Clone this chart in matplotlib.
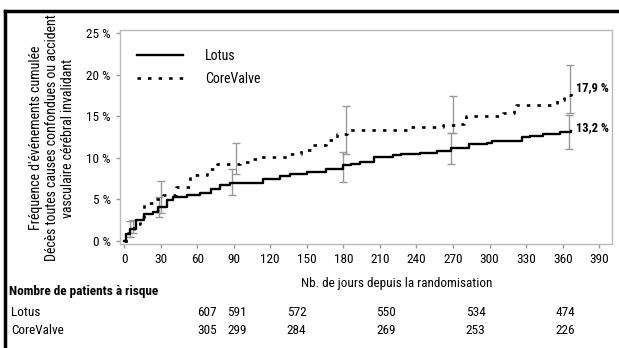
import matplotlib
matplotlib.use("Agg")
import matplotlib.pyplot as plt
from matplotlib.lines import Line2D
import numpy as np

plt.rcParams['font.family'] = ['Liberation Sans Narrow', 'DejaVu Sans Condensed',
                               'Roboto Condensed', 'Liberation Sans', 'DejaVu Sans']

# Kaplan-Meier style curves (day, cumulative %)
lotus_days = [0, 2, 5, 10, 16, 24, 28, 35, 40, 52, 62, 71, 79, 87, 109, 114, 128, 136,
              150, 166, 180, 186, 194, 205, 221, 227, 243, 257, 268, 279, 283, 298,
              302, 322, 327, 333, 344, 358, 367]
lotus_pct = [0.0, 0.8, 1.5, 2.5, 3.3, 3.5, 4.1, 4.9, 5.3, 5.5, 5.8, 6.3, 6.7, 7.0, 7.0,
             7.4, 7.8, 8.1, 8.3, 8.7, 9.1, 9.3, 9.5, 10.1, 10.3, 10.5, 10.6, 10.85,
             11.2, 11.2, 11.65, 11.75, 12.0, 12.0, 12.45, 12.65, 12.85, 13.05, 13.2]

core_days = [0, 3, 8, 13, 16, 24, 32, 43, 54, 68, 76, 87, 95, 103, 109, 125, 134, 145,
             155, 166, 175, 183, 226, 232, 262, 273, 279, 281, 306, 311, 320, 322,
             347, 355, 361, 367]
core_pct = [0.0, 1.0, 2.1, 2.9, 4.6, 5.1, 5.5, 6.5, 7.9, 8.6, 9.3, 9.3, 9.5, 9.9, 10.1,
            10.1, 10.5, 10.9, 11.5, 12.1, 12.9, 13.3, 13.3, 13.65, 13.9, 14.1, 14.5,
            15.0, 15.0, 15.4, 16.1, 16.4, 16.4, 16.95, 17.55, 17.9]

# confidence intervals
lotus_ci_days = [5, 29, 89, 180, 268, 365]
lotus_ci_low = [0.5, 2.85, 5.5, 7.1, 9.25, 11.1]
lotus_ci_high = [2.4, 5.3, 8.6, 10.7, 13.0, 15.1]
core_ci_days = [7, 30, 92, 182, 270, 366]
core_ci_low = [1.0, 3.4, 8.0, 10.5, 13.0, 15.35]
core_ci_high = [2.5, 7.25, 11.8, 16.2, 17.4, 21.2]

# patients at risk
risk_days = [0, 30, 90, 180, 270, 360]
lotus_risk = [607, 591, 572, 550, 534, 474]
core_risk = [305, 299, 284, 269, 253, 226]

fig = plt.figure(figsize=(6.19, 3.48), dpi=100)
ax = fig.add_axes([120/619, 1 - 244/348, 492/619, 214/348])

grey = '#999999'


def ci_bars(days, lo, hi, curve_days, curve_pct):
    mid = np.interp(days, curve_days, curve_pct)
    yerr = [mid - np.array(lo), np.array(hi) - mid]
    ax.errorbar(days, mid, yerr=yerr, fmt='none', ecolor=grey, elinewidth=1,
                capsize=3, capthick=1, zorder=1)


ci_bars(lotus_ci_days, lotus_ci_low, lotus_ci_high, lotus_days, lotus_pct)
ci_bars(core_ci_days, core_ci_low, core_ci_high, core_days, core_pct)

ax.plot(lotus_days, lotus_pct, drawstyle='steps-post', color='black', lw=1.7,
        label='Lotus', zorder=3)
ax.plot(core_days, core_pct, drawstyle='steps-post', color='black', lw=1.9,
        linestyle=(0, (1.3, 2.7)), label='CoreValve', zorder=3)

ax.text(371, 18.4, '17,9 %', fontsize=9, fontweight='bold', ha='left', va='center')
ax.text(371, 13.6, '13,2 %', fontsize=9, fontweight='bold', ha='left', va='center')

ax.set_xlim(-3.3, 400.5)
ax.set_ylim(-0.36, 25.36)
ax.set_xticks(range(0, 391, 30))
ax.set_yticks(range(0, 26, 5))
ax.set_yticklabels(['%d %%' % v for v in range(0, 26, 5)])
ax.tick_params(labelsize=9.5, color=grey, length=3, width=1)
for s in ax.spines.values():
    s.set_color('#bbbbbb')
    s.set_linewidth(1)

fig.text(397/619, 1 - 283/348, 'Nb. de jours depuis la randomisation', fontsize=9.5,
         ha='center', va='center')
fig.text(52/619, 1 - 138/348,
         "Fréquence d'événements cumulée\n"
         "Décès toutes causes confondues ou accident\n"
         "vasculaire cérébral invalidant",
         rotation=90, ha='center', va='center', fontsize=10, linespacing=1.15)

ax.legend(loc='upper left', bbox_to_anchor=(17/492, 0.91), frameon=False,
          fontsize=10, handlelength=3.3, handletextpad=1.6, labelspacing=0.6,
          borderpad=0, borderaxespad=0)

# risk table (its own horizontal scale: 607 at x=207 px, 474 at x=565 px)
fig.text(9/619, 1 - 292/348, 'Nombre de patients à risque', fontsize=9.5,
         fontweight='bold', ha='left', va='center')
fig.text(11/619, 1 - 312/348, 'Lotus', fontsize=9.5, ha='left', va='center')
fig.text(11/619, 1 - 331/348, 'CoreValve', fontsize=9.5, ha='left', va='center')
for d, a, b in zip(risk_days, lotus_risk, core_risk):
    xp = (207 + d * 358 / 360) / 619
    fig.text(xp, 1 - 312/348, str(a), fontsize=9.5, ha='center', va='center')
    fig.text(xp, 1 - 331/348, str(b), fontsize=9.5, ha='center', va='center')

# frame lines
fig.add_artist(Line2D([5/619, 1], [1 - 10.5/348] * 2, color='black', lw=2.5))
fig.add_artist(Line2D([5/619] * 2, [0, 1 - 10.5/348], color='black', lw=2.5))

fig.savefig('out.png', dpi=100)
